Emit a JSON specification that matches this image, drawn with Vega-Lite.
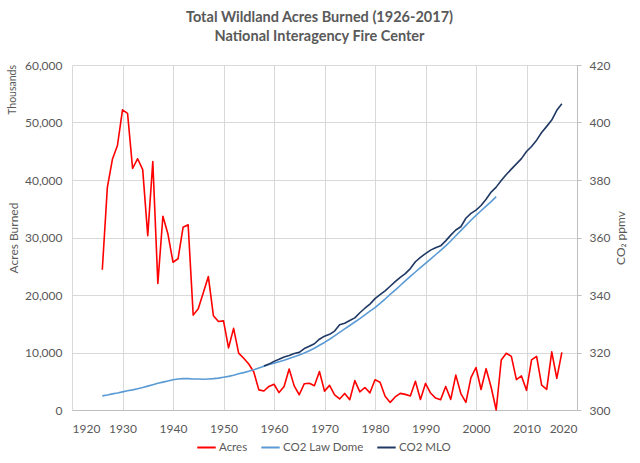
{
  "$schema": "https://vega.github.io/schema/vega-lite/v6.json",
  "width": 505,
  "height": 345,
  "autosize": {"type": "none"},
  "padding": {"left": 72, "top": 65, "right": 62, "bottom": 53},
  "background": "white",
  "title": {
    "text": ["Total Wildland Acres Burned (1926-2017)", "National Interagency Fire Center"],
    "font": "Lato",
    "fontSize": 14.5,
    "fontWeight": "bold",
    "color": "#595959",
    "anchor": "middle",
    "frame": "group",
    "offset": 15,
    "lineHeight": 19,
    "dx": -5
  },
  "config": {
    "view": {"stroke": null, "fill": null},
    "font": "Lato",
    "axis": {
      "labelFont": "Lato",
      "labelFontSize": 12,
      "labelColor": "#595959",
      "titleFont": "Lato",
      "titleFontSize": 12,
      "titleFontWeight": "normal",
      "titleColor": "#595959",
      "domainColor": "#BFBFBF",
      "tickColor": "#BFBFBF"
    },
    "legend": {
      "labelFont": "Lato",
      "labelFontSize": 11.5,
      "labelColor": "#595959"
    }
  },
  "datasets": {
    "acres": [
      {"year":1926,"series":"Acres","value":24400},{"year":1927,"series":"Acres","value":38700},{"year":1928,"series":"Acres","value":43600},{"year":1929,"series":"Acres","value":46000},{"year":1930,"series":"Acres","value":52200},{"year":1931,"series":"Acres","value":51600},{"year":1932,"series":"Acres","value":42000},{"year":1933,"series":"Acres","value":43700},{"year":1934,"series":"Acres","value":41800},{"year":1935,"series":"Acres","value":30300},{"year":1936,"series":"Acres","value":43200},{"year":1937,"series":"Acres","value":22000},{"year":1938,"series":"Acres","value":33700},{"year":1939,"series":"Acres","value":30600},{"year":1940,"series":"Acres","value":25700},{"year":1941,"series":"Acres","value":26300},{"year":1942,"series":"Acres","value":31800},{"year":1943,"series":"Acres","value":32200},{"year":1944,"series":"Acres","value":16500},{"year":1945,"series":"Acres","value":17600},{"year":1946,"series":"Acres","value":20400},{"year":1947,"series":"Acres","value":23200},{"year":1948,"series":"Acres","value":16400},{"year":1949,"series":"Acres","value":15400},{"year":1950,"series":"Acres","value":15500},{"year":1951,"series":"Acres","value":10800},{"year":1952,"series":"Acres","value":14200},{"year":1953,"series":"Acres","value":9900},{"year":1954,"series":"Acres","value":9000},{"year":1955,"series":"Acres","value":8000},{"year":1956,"series":"Acres","value":6600},{"year":1957,"series":"Acres","value":3500},{"year":1958,"series":"Acres","value":3300},{"year":1959,"series":"Acres","value":4100},{"year":1960,"series":"Acres","value":4478},{"year":1961,"series":"Acres","value":3036},{"year":1962,"series":"Acres","value":4079},{"year":1963,"series":"Acres","value":7121},{"year":1964,"series":"Acres","value":4197},{"year":1965,"series":"Acres","value":2652},{"year":1966,"series":"Acres","value":4574},{"year":1967,"series":"Acres","value":4659},{"year":1968,"series":"Acres","value":4232},{"year":1969,"series":"Acres","value":6689},{"year":1970,"series":"Acres","value":3279},{"year":1971,"series":"Acres","value":4278},{"year":1972,"series":"Acres","value":2641},{"year":1973,"series":"Acres","value":1915},{"year":1974,"series":"Acres","value":2879},{"year":1975,"series":"Acres","value":1791},{"year":1976,"series":"Acres","value":5110},{"year":1977,"series":"Acres","value":3153},{"year":1978,"series":"Acres","value":3911},{"year":1979,"series":"Acres","value":2987},{"year":1980,"series":"Acres","value":5261},{"year":1981,"series":"Acres","value":4814},{"year":1982,"series":"Acres","value":2382},{"year":1983,"series":"Acres","value":1324},{"year":1984,"series":"Acres","value":2266},{"year":1985,"series":"Acres","value":2896},{"year":1986,"series":"Acres","value":2719},{"year":1987,"series":"Acres","value":2447},{"year":1988,"series":"Acres","value":5009},{"year":1989,"series":"Acres","value":1827},{"year":1990,"series":"Acres","value":4622},{"year":1991,"series":"Acres","value":2954},{"year":1992,"series":"Acres","value":2070},{"year":1993,"series":"Acres","value":1798},{"year":1994,"series":"Acres","value":4074},{"year":1995,"series":"Acres","value":1841},{"year":1996,"series":"Acres","value":6066},{"year":1997,"series":"Acres","value":2857},{"year":1998,"series":"Acres","value":1330},{"year":1999,"series":"Acres","value":5626},{"year":2000,"series":"Acres","value":7393},{"year":2001,"series":"Acres","value":3571},{"year":2002,"series":"Acres","value":7185},{"year":2003,"series":"Acres","value":3961},{"year":2004,"series":"Acres","value":0},{"year":2005,"series":"Acres","value":8689},{"year":2006,"series":"Acres","value":9874},{"year":2007,"series":"Acres","value":9328},{"year":2008,"series":"Acres","value":5292},{"year":2009,"series":"Acres","value":5922},{"year":2010,"series":"Acres","value":3423},{"year":2011,"series":"Acres","value":8711},{"year":2012,"series":"Acres","value":9326},{"year":2013,"series":"Acres","value":4320},{"year":2014,"series":"Acres","value":3596},{"year":2015,"series":"Acres","value":10125},{"year":2016,"series":"Acres","value":5510},{"year":2017,"series":"Acres","value":10026}
    ],
    "co2": [
      {"year":1926,"series":"CO2 Law Dome","value":304.9},{"year":1927,"series":"CO2 Law Dome","value":305.2},{"year":1928,"series":"CO2 Law Dome","value":305.6},{"year":1929,"series":"CO2 Law Dome","value":305.9},{"year":1930,"series":"CO2 Law Dome","value":306.3},{"year":1931,"series":"CO2 Law Dome","value":306.7},{"year":1932,"series":"CO2 Law Dome","value":307.0},{"year":1933,"series":"CO2 Law Dome","value":307.4},{"year":1934,"series":"CO2 Law Dome","value":307.8},{"year":1935,"series":"CO2 Law Dome","value":308.3},{"year":1936,"series":"CO2 Law Dome","value":308.8},{"year":1937,"series":"CO2 Law Dome","value":309.3},{"year":1938,"series":"CO2 Law Dome","value":309.7},{"year":1939,"series":"CO2 Law Dome","value":310.1},{"year":1940,"series":"CO2 Law Dome","value":310.5},{"year":1941,"series":"CO2 Law Dome","value":310.8},{"year":1942,"series":"CO2 Law Dome","value":310.9},{"year":1943,"series":"CO2 Law Dome","value":310.9},{"year":1944,"series":"CO2 Law Dome","value":310.8},{"year":1945,"series":"CO2 Law Dome","value":310.8},{"year":1946,"series":"CO2 Law Dome","value":310.7},{"year":1947,"series":"CO2 Law Dome","value":310.8},{"year":1948,"series":"CO2 Law Dome","value":310.9},{"year":1949,"series":"CO2 Law Dome","value":311.1},{"year":1950,"series":"CO2 Law Dome","value":311.4},{"year":1951,"series":"CO2 Law Dome","value":311.7},{"year":1952,"series":"CO2 Law Dome","value":312.1},{"year":1953,"series":"CO2 Law Dome","value":312.6},{"year":1954,"series":"CO2 Law Dome","value":313.0},{"year":1955,"series":"CO2 Law Dome","value":313.5},{"year":1956,"series":"CO2 Law Dome","value":314.0},{"year":1957,"series":"CO2 Law Dome","value":314.6},{"year":1958,"series":"CO2 Law Dome","value":315.2},{"year":1959,"series":"CO2 Law Dome","value":315.8},{"year":1960,"series":"CO2 Law Dome","value":316.3},{"year":1961,"series":"CO2 Law Dome","value":316.8},{"year":1962,"series":"CO2 Law Dome","value":317.3},{"year":1963,"series":"CO2 Law Dome","value":317.9},{"year":1964,"series":"CO2 Law Dome","value":318.5},{"year":1965,"series":"CO2 Law Dome","value":319.1},{"year":1966,"series":"CO2 Law Dome","value":319.8},{"year":1967,"series":"CO2 Law Dome","value":320.6},{"year":1968,"series":"CO2 Law Dome","value":321.5},{"year":1969,"series":"CO2 Law Dome","value":322.5},{"year":1970,"series":"CO2 Law Dome","value":323.5},{"year":1971,"series":"CO2 Law Dome","value":324.6},{"year":1972,"series":"CO2 Law Dome","value":325.8},{"year":1973,"series":"CO2 Law Dome","value":327.0},{"year":1974,"series":"CO2 Law Dome","value":328.2},{"year":1975,"series":"CO2 Law Dome","value":329.4},{"year":1976,"series":"CO2 Law Dome","value":330.6},{"year":1977,"series":"CO2 Law Dome","value":331.8},{"year":1978,"series":"CO2 Law Dome","value":333.1},{"year":1979,"series":"CO2 Law Dome","value":334.4},{"year":1980,"series":"CO2 Law Dome","value":335.6},{"year":1981,"series":"CO2 Law Dome","value":337.1},{"year":1982,"series":"CO2 Law Dome","value":338.6},{"year":1983,"series":"CO2 Law Dome","value":340.2},{"year":1984,"series":"CO2 Law Dome","value":341.7},{"year":1985,"series":"CO2 Law Dome","value":343.3},{"year":1986,"series":"CO2 Law Dome","value":344.9},{"year":1987,"series":"CO2 Law Dome","value":346.5},{"year":1988,"series":"CO2 Law Dome","value":348.0},{"year":1989,"series":"CO2 Law Dome","value":349.5},{"year":1990,"series":"CO2 Law Dome","value":351.0},{"year":1991,"series":"CO2 Law Dome","value":352.5},{"year":1992,"series":"CO2 Law Dome","value":354.0},{"year":1993,"series":"CO2 Law Dome","value":355.5},{"year":1994,"series":"CO2 Law Dome","value":357.1},{"year":1995,"series":"CO2 Law Dome","value":358.8},{"year":1996,"series":"CO2 Law Dome","value":360.6},{"year":1997,"series":"CO2 Law Dome","value":362.4},{"year":1998,"series":"CO2 Law Dome","value":364.2},{"year":1999,"series":"CO2 Law Dome","value":366.0},{"year":2000,"series":"CO2 Law Dome","value":367.7},{"year":2001,"series":"CO2 Law Dome","value":369.3},{"year":2002,"series":"CO2 Law Dome","value":370.9},{"year":2003,"series":"CO2 Law Dome","value":372.5},{"year":2004,"series":"CO2 Law Dome","value":374.2},
      {"year":1958,"series":"CO2 MLO","value":315.3},{"year":1959,"series":"CO2 MLO","value":315.97},{"year":1960,"series":"CO2 MLO","value":316.91},{"year":1961,"series":"CO2 MLO","value":317.64},{"year":1962,"series":"CO2 MLO","value":318.45},{"year":1963,"series":"CO2 MLO","value":318.99},{"year":1964,"series":"CO2 MLO","value":319.62},{"year":1965,"series":"CO2 MLO","value":320.04},{"year":1966,"series":"CO2 MLO","value":321.38},{"year":1967,"series":"CO2 MLO","value":322.16},{"year":1968,"series":"CO2 MLO","value":323.04},{"year":1969,"series":"CO2 MLO","value":324.62},{"year":1970,"series":"CO2 MLO","value":325.68},{"year":1971,"series":"CO2 MLO","value":326.32},{"year":1972,"series":"CO2 MLO","value":327.45},{"year":1973,"series":"CO2 MLO","value":329.68},{"year":1974,"series":"CO2 MLO","value":330.18},{"year":1975,"series":"CO2 MLO","value":331.11},{"year":1976,"series":"CO2 MLO","value":332.04},{"year":1977,"series":"CO2 MLO","value":333.83},{"year":1978,"series":"CO2 MLO","value":335.4},{"year":1979,"series":"CO2 MLO","value":336.84},{"year":1980,"series":"CO2 MLO","value":338.75},{"year":1981,"series":"CO2 MLO","value":340.11},{"year":1982,"series":"CO2 MLO","value":341.45},{"year":1983,"series":"CO2 MLO","value":343.05},{"year":1984,"series":"CO2 MLO","value":344.65},{"year":1985,"series":"CO2 MLO","value":346.12},{"year":1986,"series":"CO2 MLO","value":347.42},{"year":1987,"series":"CO2 MLO","value":349.19},{"year":1988,"series":"CO2 MLO","value":351.57},{"year":1989,"series":"CO2 MLO","value":353.12},{"year":1990,"series":"CO2 MLO","value":354.39},{"year":1991,"series":"CO2 MLO","value":355.61},{"year":1992,"series":"CO2 MLO","value":356.45},{"year":1993,"series":"CO2 MLO","value":357.1},{"year":1994,"series":"CO2 MLO","value":358.83},{"year":1995,"series":"CO2 MLO","value":360.82},{"year":1996,"series":"CO2 MLO","value":362.61},{"year":1997,"series":"CO2 MLO","value":363.73},{"year":1998,"series":"CO2 MLO","value":366.7},{"year":1999,"series":"CO2 MLO","value":368.38},{"year":2000,"series":"CO2 MLO","value":369.55},{"year":2001,"series":"CO2 MLO","value":371.14},{"year":2002,"series":"CO2 MLO","value":373.28},{"year":2003,"series":"CO2 MLO","value":375.8},{"year":2004,"series":"CO2 MLO","value":377.52},{"year":2005,"series":"CO2 MLO","value":379.8},{"year":2006,"series":"CO2 MLO","value":381.9},{"year":2007,"series":"CO2 MLO","value":383.79},{"year":2008,"series":"CO2 MLO","value":385.6},{"year":2009,"series":"CO2 MLO","value":387.43},{"year":2010,"series":"CO2 MLO","value":389.9},{"year":2011,"series":"CO2 MLO","value":391.65},{"year":2012,"series":"CO2 MLO","value":393.85},{"year":2013,"series":"CO2 MLO","value":396.52},{"year":2014,"series":"CO2 MLO","value":398.65},{"year":2015,"series":"CO2 MLO","value":400.83},{"year":2016,"series":"CO2 MLO","value":404.24},{"year":2017,"series":"CO2 MLO","value":406.55}
    ],
    "labels": [{"label": "Thousands", "year": 1920, "value": 60000}]
  },
  "layer": [
    {
      "data": {"name": "acres"},
      "mark": {"type": "line", "strokeWidth": 1.6, "strokeJoin": "round"},
      "encoding": {
        "x": {
          "field": "year", "type": "quantitative",
          "scale": {"domain": [1920, 2020], "nice": false, "zero": false},
          "axis": {"values": [1920,1930,1940,1950,1960,1970,1980,1990,2000,2010,2020], "format": "d", "title": null, "grid": true, "gridColor": "#D9D9D9", "ticks": false, "domain": true, "labelPadding": 13}
        },
        "y": {
          "field": "value", "type": "quantitative",
          "scale": {"domain": [0, 60000], "nice": false},
          "axis": {"orient": "left", "values": [0,10000,20000,30000,40000,50000,60000], "format": ",d", "title": "Acres Burned", "grid": true, "gridColor": "#D9D9D9", "ticks": false, "domain": false, "labelPadding": 10, "titlePadding": 4}
        },
        "color": {
          "field": "series", "type": "nominal",
          "scale": {"domain": ["Acres", "CO2 Law Dome", "CO2 MLO"], "range": ["#FF0000", "#5B9BD5", "#1F3864"]},
          "legend": {"orient": "none", "legendX": 124, "legendY": 372, "title": null, "direction": "horizontal", "symbolType": "stroke", "symbolStrokeWidth": 2, "symbolSize": 340, "columnPadding": 9, "labelOffset": 2}
        }
      }
    },
    {
      "data": {"name": "labels"},
      "mark": {"type": "text", "angle": 270, "align": "right", "baseline": "middle", "dy": -59, "fontSize": 10.5, "color": "#595959", "font": "Lato"},
      "encoding": {
        "x": {"field": "year", "type": "quantitative"},
        "y": {"field": "value", "type": "quantitative", "scale": {"domain": [0, 60000], "nice": false}, "axis": null},
        "text": {"field": "label"}
      }
    },
    {
      "data": {"name": "co2"},
      "mark": {"type": "line", "strokeWidth": 1.6, "strokeJoin": "round"},
      "encoding": {
        "x": {"field": "year", "type": "quantitative"},
        "y": {
          "field": "value", "type": "quantitative",
          "scale": {"domain": [300, 420], "nice": false, "zero": false},
          "axis": {"orient": "right", "values": [300,320,340,360,380,400,420], "title": "CO₂ ppmv", "titleAngle": 270, "titleBaseline": "top", "grid": false, "ticks": true, "tickSize": 4, "domain": true, "labelPadding": 8, "titlePadding": 6}
        },
        "color": {"field": "series", "type": "nominal"}
      }
    }
  ],
  "resolve": {"scale": {"y": "independent"}}
}
